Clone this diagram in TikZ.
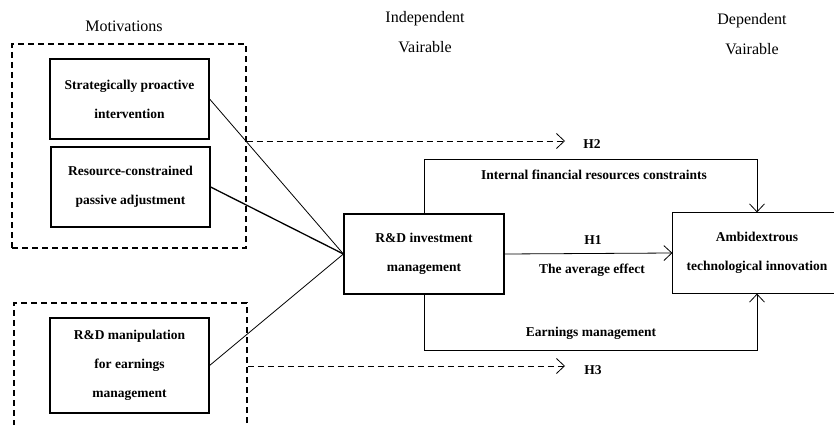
\documentclass[tikz,border=0pt]{standalone}
\usepackage{fontspec}
\setmainfont{Liberation Serif}
\usetikzlibrary{arrows.meta}
\usetikzlibrary{positioning}

\begin{document}
\begin{tikzpicture}[x=1pt,y=-1pt]
  \tikzset{factor/.style = {shape=rectangle,draw,line width=1.2pt,align=center,inner sep=0pt,font=\bfseries\fontsize{13.5}{29}\selectfont}}
  \tikzset{group/.style = {shape=rectangle,draw,dash pattern=on 6pt off 4pt,line width=1.1pt,inner sep=0pt}}
  \tikzset{heading/.style = {align=center,font=\fontsize{16}{30}\selectfont}}
  \tikzset{tag/.style = {font=\bfseries\fontsize{13.5}{16}\selectfont}}
  \tikzset{link/.style = {line width=0.8pt}}
  \tikzset{effect/.style = {line width=0.8pt,-{Straight Barb[length=8pt,width=15pt,line width=0.8pt]}}}
  \tikzset{hypo/.style = {effect,dash pattern=on 6pt off 4pt}}

  \useasboundingbox (0,0) rectangle (834,425);
  \clip (0,0) rectangle (834,425);

	\node[heading] (Mot) at (124,26) {Motivations};
	\node[heading] (Ind) at (425,32) {Independent\\Vairable};
	\node[heading] (Dep) at (752,34) {Dependent\\Vairable};

	\node[group,minimum width=234,minimum height=204] (G1) at (129,146) {};
	\node[group,minimum width=233,minimum height=137] (G2) at (130.5,371.5) {};

	\node[factor,minimum width=159,minimum height=80] (S1) at (129.5,99) {Strategically proactive\\intervention};
	\node[factor,minimum width=159,minimum height=80] (S2) at (130.5,187) {Resource-constrained\\passive adjustment};
	\node[factor,minimum width=159,minimum height=95] (S3) at (129.5,365.5) {R\&D manipulation\\for earnings\\management};

	\node[factor,minimum width=160,minimum height=80] (RD) at (424,254) {R\&D investment\\management};
	% box runs off the right edge of the figure
	\node[factor,draw=none,minimum width=168,minimum height=80] (Amb) at (757,253) {Ambidextrous\\technological innovation};
	\draw[line width=1.3pt] ([xshift=30pt]Amb.north east) -- (Amb.north west) -- (Amb.south west) -- ([xshift=30pt]Amb.south east);

	\coordinate (H2end) at (565,141);
	\coordinate (H3end) at (565,366);
	\node[tag] (H2) at (592,144) {H2};
	\node[tag] (H3) at (593,370) {H3};
	\node[tag] (H1) at (593,240) {H1};

	\node[tag] (Lfin) at (594,175) {Internal financial resources constraints};
	\node[tag] (Lavg) at (592,270) {The average effect};
	\node[tag] (Lear) at (591,333) {Earnings management};

    \foreach \from/\w in {S1/0.8pt,S2/1.3pt,S3/0.8pt}
    \draw[link,line width=\w] (\from.east) -- (RD.west);

    \draw[hypo] ([yshift=5pt]G1.east) -- (H2end);
    \draw[hypo] ([yshift=5.5pt]G2.east) -- (H3end);

    \draw[effect] (RD.east) -- (Amb.west);
    \draw[effect] (RD.north) -- ++(0,-54) -| (Amb.north);
    \draw[effect] (RD.south) -- ++(0,56) -| (Amb.south);

\end{tikzpicture}
\end{document}
